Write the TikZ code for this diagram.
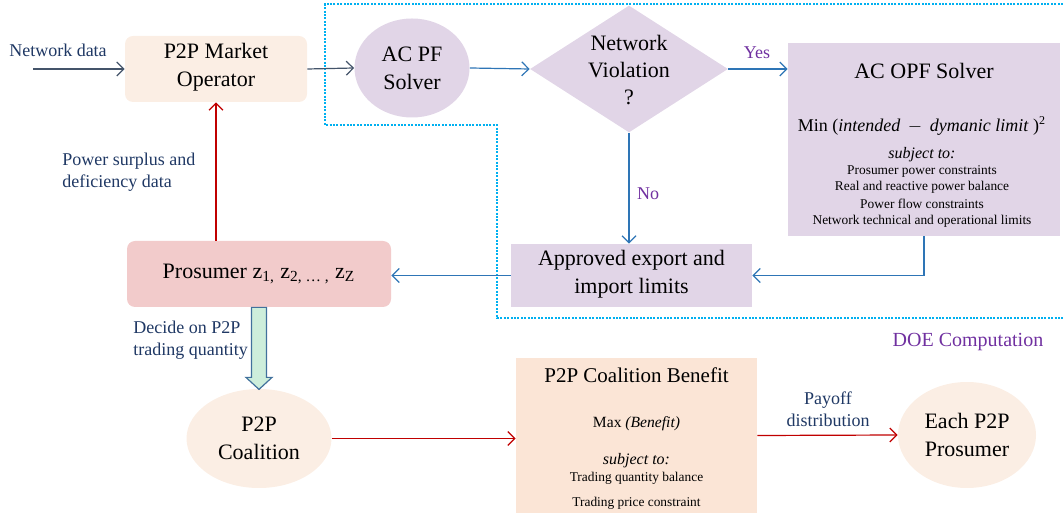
\documentclass[tikz,border=0pt]{standalone}
\usepackage{fontspec}
\setmainfont{Liberation Serif}
\usepackage{tikz}
\usetikzlibrary{arrows.meta,shapes.geometric}

\definecolor{peach}{HTML}{FBEEE4}
\definecolor{peachdark}{HTML}{FBE5D6}
\definecolor{lilac}{HTML}{E1D5E7}
\definecolor{rose}{HTML}{F2CBCB}
\definecolor{labelblue}{HTML}{1F3864}
\definecolor{doepurple}{HTML}{7030A0}
\definecolor{slate}{HTML}{44546A}
\definecolor{flowblue}{HTML}{2E75B6}
\definecolor{flowred}{HTML}{C00000}
\definecolor{doecyan}{HTML}{00B0F0}
\definecolor{mint}{HTML}{CDEEDB}
\definecolor{mintedge}{HTML}{41719C}

\begin{document}
\begin{tikzpicture}[x=0.5pt, y=-0.5pt,
      big/.style={font=\fontsize{11}{14}\selectfont},
      block/.style={rectangle, inner sep=0pt, align=center, big},
      blob/.style={ellipse, inner sep=0pt, align=center, big},
      note/.style={font=\fontsize{9}{11}\selectfont, text=labelblue, align=left, inner sep=0pt},
      tag/.style={font=\fontsize{9}{11}\selectfont, text=doepurple, inner sep=0pt},
      small/.style={font=\fontsize{6.7}{8}\selectfont, inner sep=0pt},
      sub/.style={font=\fontsize{8}{9}\selectfont\itshape, inner sep=0pt},
      flow/.style={line width=0.6pt, -{Straight Barb[length=3.5pt,width=7pt]}}]
      \useasboundingbox (0,0) rectangle (1063,517);

      % DOE region
      \draw[doecyan, line width=0.7pt, dash pattern=on 1pt off 0.7pt]
        (1063,4) -- (325,4) -- (325,125) -- (497,125) -- (497,318) -- (1063,318);
      \node[tag, font=\fontsize{10}{12}\selectfont] (doe) at (968,342) {DOE Computation};

      % upper row
      \node[block, rounded corners=4pt, fill=peach, minimum width=91pt, minimum height=33pt,
        text depth=4pt] (market) at (216,69) {P2P Market\\Operator};
      \node[blob, fill=lilac, minimum width=57.5pt, minimum height=49.5pt]
        (acpf) at (412,68) {AC PF\\Solver};
      \node[diamond, inner sep=0pt, fill=lilac, minimum width=99pt, minimum height=63.5pt]
        (viol) at (629,69) {};
      \node[font=\fontsize{11}{13.5}\selectfont, align=center, inner sep=0pt] (violtext) at (629,70) {Network\\Violation\\?};
      \node[block, fill=lilac, minimum width=136pt, minimum height=96.5pt]
        (opf) at (924,139.5) {};
      \node[big, inner sep=0pt] (opftitle) at (924,71) {AC OPF Solver};
      \node[font=\fontsize{9}{11}\selectfont, inner sep=0pt] (opfobj) at (922,126)
        {Min (\textit{intended} \,$-$\, \textit{dymanic limit} )\textsuperscript{2}};
      \node[sub] (opfsub) at (922,155) {subject to:};
      \foreach \txt [count=\i] in {Prosumer power constraints, Real and reactive power balance,
          Power flow constraints, Network technical and operational limits} {%
        \node[small] (opfc\i) at (922,154.5+16.6*\i) {\txt};
      }

      \node[block, fill=lilac, minimum width=120.5pt, minimum height=31.5pt, text depth=4pt]
        (approved) at (631.5,275.5) {Approved export and\\import limits};
      \node[block, rounded corners=4pt, fill=rose, minimum width=132pt, minimum height=33pt]
        (prosumer) at (259,274)
        {Prosumer z\textsubscript{1,} z\textsubscript{2, \dots\ ,} z\textsubscript{Z}};

      % lower row
      \node[blob, fill=peach, minimum width=72.5pt, minimum height=49.5pt]
        (coal) at (259,438.5) {P2P\\Coalition};
      \node[block, fill=peachdark, minimum width=120.5pt, minimum height=77.5pt]
        (benefit) at (636.5,435.5) {};
      \node[font=\fontsize{10.5}{12}\selectfont, inner sep=0pt] (bentitle) at (636.5,375) {P2P Coalition Benefit};
      \node[font=\fontsize{7.8}{9}\selectfont, inner sep=0pt] (benobj) at (636.5,424) {Max \textit{(Benefit)}};
      \node[sub] (bensub) at (636.5,461) {subject to:};
      \node[small] (benc1) at (636.5,478) {Trading quantity balance};
      \node[small] (benc2) at (636.5,503) {Trading price constraint};
      \node[blob, fill=peach, minimum width=69pt, minimum height=53pt]
        (each) at (967,435) {Each P2P\\Prosumer};

      % labels
      \node[note] (netlabel) at (58,50) {Network data};
      \coordinate (netin) at (33,69);
      \node[note, anchor=west] (surplus) at (62,172) {Power surplus and\\deficiency data};
      \node[note, anchor=west] (decide) at (133,340) {Decide on P2P\\trading quantity};
      \node[note, align=center] (payoff) at (828,409) {Payoff\\distribution};
      \node[tag] (yes) at (757,53) {Yes};
      \node[tag] (no) at (648,194) {No};

      % connectors
      \draw[flow, slate] (netin) -- (market.west);
      \draw[flow, slate] (market.east) -- (acpf.west);
      \draw[flow, flowblue] (acpf.east) -- (viol.west);
      \draw[flow, flowblue] (viol.east) -- (viol.east -| opf.west);
      \draw[flow, flowblue] (viol.south) -- (viol.south |- approved.north);
      \draw[flow, flowblue] (opf.south) |- (approved.east);
      \draw[flow, flowblue] (approved.west) -- (approved.west -| prosumer.east);
      \draw[flow, flowred] (market.south |- prosumer.north) -- (market.south);
      \draw[flow, flowred] (coal.east) -- (coal.east -| benefit.west);
      \draw[flow, flowred] (benefit.east) -- (each.west);
      \draw[mintedge, fill=mint, line width=0.6pt]
        ([xshift=-3.75pt]prosumer.south) -- ++(0,70) -- ++(-5.5,0) -- ++(13,12)
        -- ++(13,-12) -- ++(-5.5,0) -- ++(0,-70) -- cycle;
    \end{tikzpicture}
\end{document}
